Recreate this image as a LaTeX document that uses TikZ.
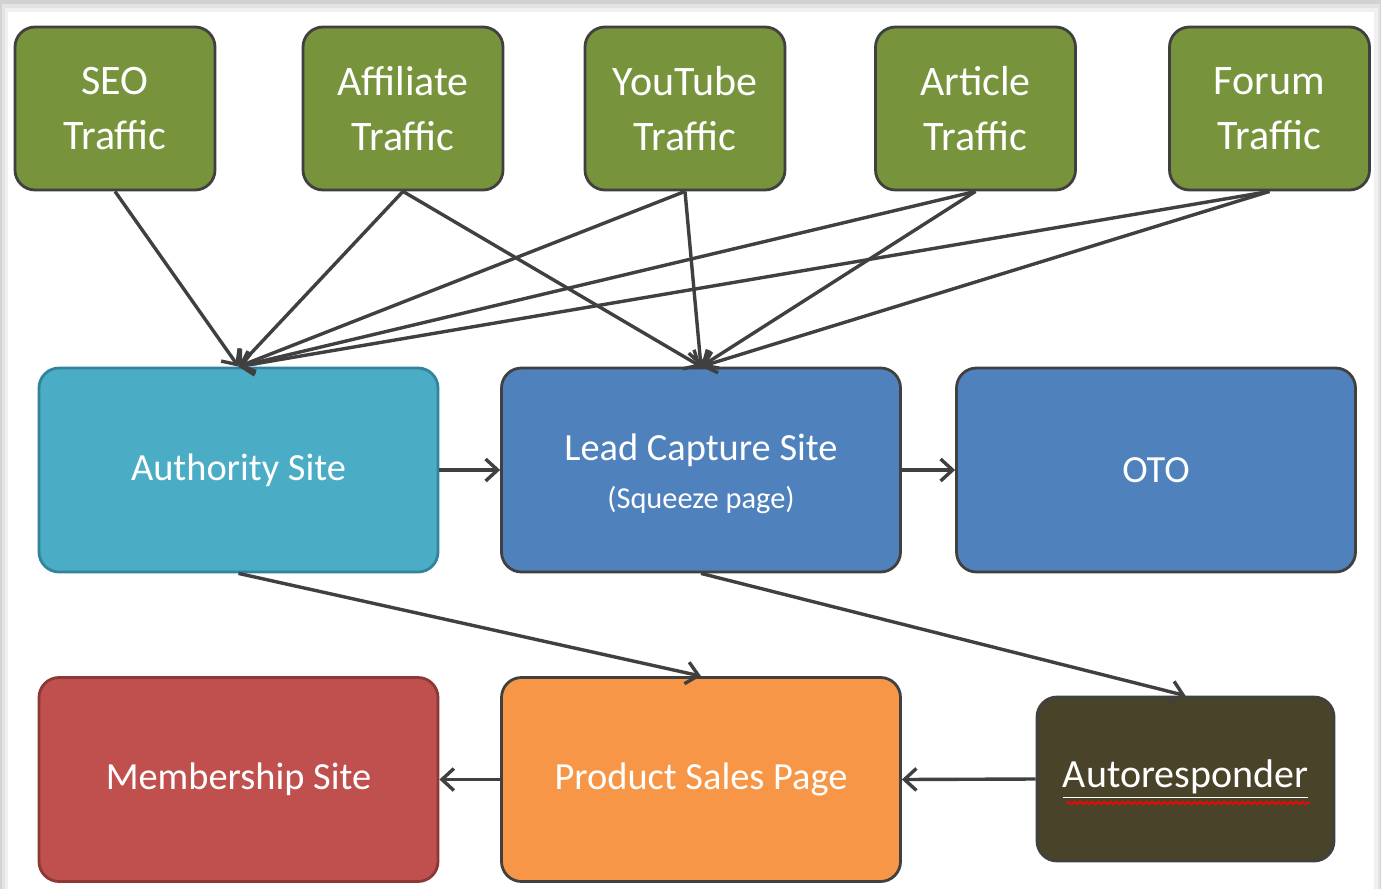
\documentclass[tikz,border=0pt]{standalone}
\usepackage{fontspec}
\setmainfont{Carlito}
\usetikzlibrary{arrows.meta,decorations.pathmorphing}
\definecolor{traffic}{HTML}{77933C}
\definecolor{authfill}{HTML}{4BACC6}
\definecolor{authline}{HTML}{31849B}
\definecolor{bluefill}{HTML}{4F81BD}
\definecolor{redfill}{HTML}{C0504D}
\definecolor{redline}{HTML}{8C3836}
\definecolor{orangefill}{HTML}{F79646}
\definecolor{autofill}{HTML}{494429}
\definecolor{edge}{HTML}{404040}
\tikzset{
  box/.style={rectangle, rounded corners=10pt, line width=1.4pt, draw=edge, text=white, align=center, inner sep=0pt},
  trafficbox/.style={box, fill=traffic, minimum width=100pt, minimum height=81.5pt, font=\fontsize{21}{27.5}\selectfont},
  bigbox/.style={box, minimum width=199.5pt, minimum height=102pt, font=\fontsize{19.2}{24}\selectfont},
  conn/.style={draw=edge, line width=1.7pt, -{Straight Barb[length=6pt,width=11pt]}}
}
\begin{document}
\begin{tikzpicture}[x=0.5pt,y=-0.5pt]
\useasboundingbox (0,0) rectangle (1381,889);
\fill[gray!35] (0,0) rectangle (1381,889);
\fill[gray!22] (2,4) rectangle (1380,889);
\fill[gray!12] (5,8) rectangle (1378,889);
\fill[white] (8,12) rectangle (1374,889);
% traffic sources
\node[trafficbox] (seo) at (115,108.5) {SEO\\Traffic};
\node[trafficbox] (aff) at (403,108.5) {Affiliate\\Traffic};
\node[trafficbox] (yt) at (685,108.5) {YouTube\\Traffic};
\node[trafficbox] (art) at (975.5,108.5) {Article\\Traffic};
\node[trafficbox] (forum) at (1269.5,108.5) {Forum\\Traffic};
% middle row
\node[bigbox, fill=authfill, draw=authline] (auth) at (238.5,470) {Authority Site};
\node[bigbox, fill=bluefill] (lead) at (701,470) {\raisebox{-2.5pt}[\height][\depth]{\begin{tabular}{@{}c@{}}Lead Capture Site\\[0pt]{\fontsize{15.2}{19}\selectfont (Squeeze page)}\end{tabular}}};
\node[bigbox, fill=bluefill] (oto) at (1156,470) {OTO};
% bottom row
\node[bigbox, fill=redfill, draw=redline] (memb) at (238.5,779.5) {Membership Site};
\node[bigbox, fill=orangefill] (prod) at (701,779.5) {Product Sales Page};
\node[box, fill=autofill, minimum width=148.5pt, minimum height=82pt, font=\fontsize{20}{26}\selectfont] (auto) at (1185.5,779) {\underline{Autoresponder}};
\draw[red, line width=0.8pt, decorate, decoration={snake, amplitude=0.7pt, segment length=3pt}]
  ([shift={(-119,24)}]auto.center) coordinate (wavyA) -- ([shift={(124,24)}]auto.center) coordinate (wavyB);
% connectors to Authority Site
\draw[conn] (seo.south) -- (auth.north);
\draw[conn] (aff.south) -- (auth.north);
\draw[conn] (yt.south) -- (auth.north);
\draw[conn] (art.south) -- (auth.north);
\draw[conn] (forum.south) -- (auth.north);
% connectors to Lead Capture Site
\draw[conn] (aff.south) -- (lead.north);
\draw[conn] (yt.south) -- (lead.north);
\draw[conn] (art.south) -- (lead.north);
\draw[conn] (forum.south) -- (lead.north);
% horizontal
\draw[conn] (auth.east) -- (lead.west);
\draw[conn] (lead.east) -- (oto.west);
\draw[conn] (auto.west) -- (prod.east);
\draw[conn] (prod.west) -- (memb.east);
% diagonals down
\draw[conn] (auth.south) -- (prod.north);
\draw[conn] (lead.south) -- (auto.north);
\end{tikzpicture}
\end{document}
